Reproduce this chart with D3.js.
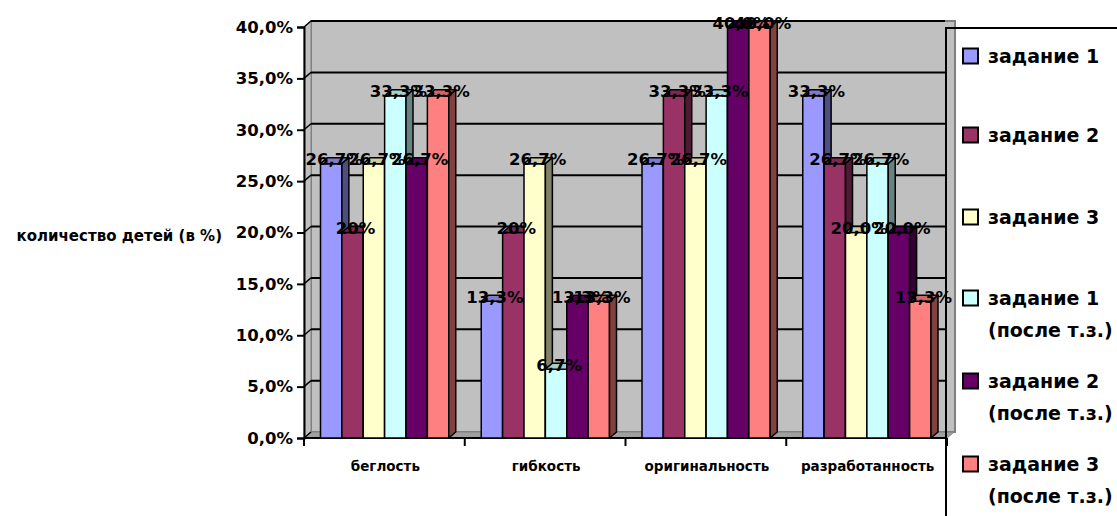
<!DOCTYPE html>
<html>
<head>
<meta charset="utf-8">
<script src="https://cdn.jsdelivr.net/npm/d3@7"></script>
<style>
    body { margin: 0; background: #fff; }
    text { font-family: "DejaVu Sans", sans-serif; font-weight: bold; fill: #000; }
</style>
</head>
<body>
<svg class="chart" width="1117" height="516"></svg>
<script>
const categories = ['беглость', 'гибкость', 'оригинальность', 'разработанность'];
const seriesNames = [
    ['задание 1'],
    ['задание 2'],
    ['задание 3'],
    ['задание 1', '(после т.з.)'],
    ['задание 2', '(после т.з.)'],
    ['задание 3', '(после т.з.)']
];
const task1 = [26.7, 13.3, 26.7, 33.3];
const task2 = [20, 20, 33.3, 26.7];
const task3 = [26.7, 26.7, 26.7, 20];
const task1After = [33.3, 6.7, 33.3, 26.7];
const task2After = [26.7, 13.3, 40, 20];
const task3After = [33.3, 13.3, 40, 13.3];
const task1Labels = ['26,7%', '13,3%', '26,7%', '33,3%'];
const task2Labels = ['20%', '20%', '33,3%', '26,7%'];
const task3Labels = ['26,7%', '26,7%', '26,7%', '20,0%'];
const task1AfterLabels = ['33,3%', '6,7%', '33,3%', '26,7%'];
const task2AfterLabels = ['26,7%', '13,3%', '40,0%', '20,0%'];
const task3AfterLabels = ['33,3%', '13,3%', '40,0%', '13,3%'];
const yTicks = [0, 5, 10, 15, 20, 25, 30, 35, 40];
const colors = ['#9999FF', '#993366', '#FFFFCC', '#CCFFFF', '#660066', '#FF8080'];

const series = [task1, task2, task3, task1After, task2After, task3After];
const seriesLabels = [task1Labels, task2Labels, task3Labels, task1AfterLabels, task2AfterLabels, task3AfterLabels];

const chart = d3.select('.chart');

// 3d offset of the depth
const dx = 7;
const dy = -6;
const plotLeft = 304, plotRight = 947, plotTop = 27, plotBottom = 438;

const ru = d3.formatLocale({ decimal: ',', thousands: ' ', grouping: [3], currency: ['', ''], percent: '%' });
const pct = v => ru.format('.1f')(v) + '%';

const yScale = d3.scaleLinear().domain([0, 40]).range([plotBottom, plotTop]);
const xScale = d3.scaleBand().domain(categories).range([plotLeft, plotRight]).padding(0);
const innerScale = d3.scaleBand().domain(d3.range(series.length))
    .range([16.5, xScale.bandwidth() - 16]).padding(0);

// walls and floor
chart.append('rect')
    .attr('x', plotLeft + dx).attr('y', yScale(40) + dy)
    .attr('width', plotRight - plotLeft + 1).attr('height', yScale(0) - yScale(40))
    .attr('fill', '#C0C0C0').attr('stroke', '#808080').attr('stroke-width', 2);
chart.append('polygon')
    .attr('points', [[plotLeft, plotBottom], [plotLeft, plotTop], [plotLeft + dx, plotTop + dy], [plotLeft + dx, plotBottom + dy]].join(' '))
    .attr('fill', '#C0C0C0').attr('stroke', '#808080').attr('stroke-width', 1);
chart.append('polygon')
    .attr('points', [[plotLeft, plotBottom], [plotRight, plotBottom], [plotRight + dx, plotBottom + dy], [plotLeft + dx, plotBottom + dy]].join(' '))
    .attr('fill', '#A0A0A0').attr('stroke', '#808080').attr('stroke-width', 1);

const grid = chart.append('g');
grid.selectAll('line.h').data(yTicks.slice(1)).enter().append('line')
    .attr('x1', plotLeft + dx).attr('x2', plotRight - 2)
    .attr('y1', d => yScale(d) + dy).attr('y2', d => yScale(d) + dy)
    .attr('stroke', '#000').attr('stroke-width', 2);
grid.selectAll('line.s').data(yTicks).enter().append('line')
    .attr('x1', plotLeft).attr('x2', plotLeft + dx)
    .attr('y1', d => yScale(d)).attr('y2', d => yScale(d) + dy)
    .attr('stroke', '#000').attr('stroke-width', 1.5);

// axes
const yAxis = chart.append('g')
    .attr('transform', `translate(${plotLeft},0)`)
    .call(d3.axisLeft(yScale).tickValues(yTicks).tickFormat(pct).tickSize(7).tickPadding(4));
yAxis.select('.domain').attr('stroke', '#000').attr('stroke-width', 2);
yAxis.selectAll('.tick line').attr('stroke', '#000').attr('stroke-width', 2);
yAxis.selectAll('.tick text').attr('font-size', 16.5).attr('font-family', 'DejaVu Sans').attr('font-weight', 'bold');

const xAxis = chart.append('g').attr('transform', `translate(0,${plotBottom})`);
xAxis.append('line').attr('x1', plotLeft).attr('x2', plotRight)
    .attr('stroke', '#000').attr('stroke-width', 2);
xAxis.selectAll('line.tick').data(categories.concat(['end'])).enter().append('line')
    .attr('x1', (d, i) => i < categories.length ? xScale(d) : plotRight)
    .attr('x2', (d, i) => i < categories.length ? xScale(d) : plotRight)
    .attr('y1', 0).attr('y2', 8)
    .attr('stroke', '#000').attr('stroke-width', 2);
xAxis.selectAll('text').data(categories).enter().append('text')
    .attr('x', d => xScale(d) + xScale.bandwidth() / 2 + 1)
    .attr('y', 28)
    .attr('text-anchor', 'middle').attr('dominant-baseline', 'central')
    .attr('font-size', 13.5)
    .text(d => d);

chart.append('text')
    .attr('x', 222).attr('y', 236)
    .attr('text-anchor', 'end').attr('dominant-baseline', 'central')
    .attr('font-size', 15)
    .text('количество детей (в %)');

// bars
const shade = (c, k) => d3.rgb(c).darker(k).formatHex();
const bars = chart.append('g');
categories.forEach((cat, ci) => {
    series.forEach((vals, si) => {
        const x0 = xScale(cat) + innerScale(si);
        const x1 = x0 + innerScale.bandwidth();
        const yv = yScale(vals[ci]);
        const g = bars.append('g').attr('stroke', '#000').attr('stroke-width', 1.5).attr('stroke-linejoin', 'round');
        g.append('rect')
            .attr('x', x0).attr('y', yv)
            .attr('width', x1 - x0).attr('height', plotBottom - yv)
            .attr('fill', colors[si]);
        g.append('polygon')
            .attr('points', [[x0, yv], [x0 + dx, yv + dy], [x1 + dx, yv + dy], [x1, yv]].join(' '))
            .attr('fill', shade(colors[si], 0.6));
        g.append('polygon')
            .attr('points', [[x1, yv], [x1 + dx, yv + dy], [x1 + dx, plotBottom + dy], [x1, plotBottom]].join(' '))
            .attr('fill', shade(colors[si], 1.9));
    });
});

const labels = chart.append('g');
categories.forEach((cat, ci) => {
    series.forEach((vals, si) => {
        labels.append('text')
            .attr('x', xScale(cat) + innerScale(si) + innerScale.bandwidth() / 2 + 3)
            .attr('y', yScale(vals[ci]) - 4)
            .attr('text-anchor', 'middle').attr('dominant-baseline', 'central')
            .attr('font-size', 16.5)
            .text(seriesLabels[si][ci]);
    });
});

// legend
chart.append('path')
    .attr('d', 'M946,516 L946,28 L1117,28')
    .attr('fill', 'none').attr('stroke', '#000').attr('stroke-width', 2);
const legendY = [56, 135, 217, 298, 381, 464];
const legend = chart.append('g');
seriesNames.forEach((name, i) => {
    legend.append('rect')
        .attr('x', 963).attr('y', legendY[i] - 7.5)
        .attr('width', 15).attr('height', 15)
        .attr('fill', colors[i]).attr('stroke', '#000').attr('stroke-width', 2);
    name.forEach((line, j) => {
        legend.append('text')
            .attr('x', 988).attr('y', legendY[i] + j * 32)
            .attr('dominant-baseline', 'central')
            .attr('font-size', 19)
            .text(line);
    });
});
</script>
</body>
</html>
